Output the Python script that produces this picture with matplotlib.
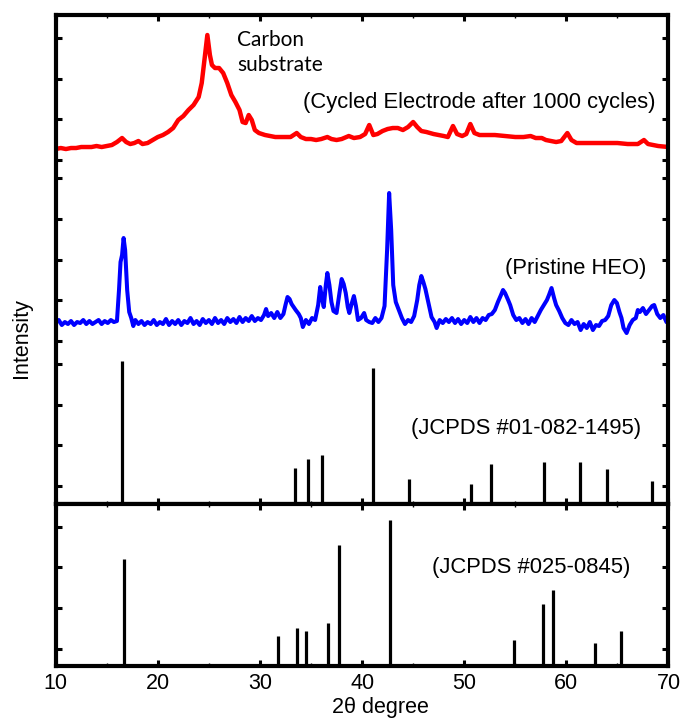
import numpy as np
import matplotlib
matplotlib.use("Agg")
import matplotlib.pyplot as plt
from matplotlib.ticker import MultipleLocator

# ---------------- data ----------------
# Cycled electrode (red): 2theta, intensity (a.u., relative to its own baseline)
red_x = [10.0, 10.5, 11, 11.5, 12, 12.5, 13, 13.5, 14, 14.5, 15, 15.5, 16.0, 16.5, 16.9, 17.3,
         17.7, 18.1, 18.5, 19.0, 19.5, 20, 20.5, 21, 21.5, 22, 22.5, 23, 23.5, 24, 24.3, 24.6,
         24.85, 25.1, 25.3, 25.6, 26.0, 26.4, 26.8, 27.2, 27.6, 28.0, 28.3, 28.6, 28.9, 29.2,
         29.5, 29.9, 30.5, 31, 31.5, 32, 32.5, 33.0, 33.6, 34, 34.5, 35, 35.5, 36, 36.6, 37,
         37.5, 38, 38.7, 39.2, 39.8, 40.3, 40.7, 41.1, 41.5, 42, 42.5, 43, 43.5, 44, 44.5, 45,
         45.4, 45.8, 46.3, 47, 47.5, 48, 48.4, 48.9, 49.3, 49.8, 50.2, 50.6, 51, 51.5, 52, 53,
         54, 55, 55.8, 56.5, 57, 57.6, 58, 58.5, 59, 59.5, 60.1, 60.5, 61, 62, 63, 64, 65, 66,
         67, 67.6, 68, 68.5, 69, 70]
red_y = [26, 27, 26, 27, 27, 28, 28, 28, 29, 28, 29, 30, 33, 37, 33, 31,
         32, 34, 31, 32, 35, 38, 40, 43, 47, 55, 59, 65, 70, 78, 92, 118,
         140, 120, 110, 107, 107, 102, 92, 80, 73, 65, 53, 52, 60, 55,
         45, 42, 40, 39, 38, 38, 38, 38, 42, 38, 36, 36, 35, 36, 38, 36,
         35, 36, 39, 37, 38, 41, 50, 40, 41, 44, 46, 47, 47, 45, 48, 53,
         48, 44, 43, 41, 40, 39, 38, 49, 41, 39, 41, 51, 42, 40, 40, 40,
         39, 38, 38, 39, 37, 37, 35, 34, 33, 34, 42, 35, 32, 32, 32, 32, 32, 31,
         31, 35, 31, 30, 29, 28]

# Pristine HEO (blue)
blue_x = [10.0, 10.3, 10.6, 10.9, 11.2, 11.5, 11.8, 12.1, 12.4, 12.7, 13.0, 13.3, 13.6, 13.9,
          14.2, 14.5, 14.8, 15.1, 15.4, 15.7, 16.0, 16.2, 16.35, 16.5, 16.65, 16.8, 17.0, 17.2,
          17.4, 17.6, 17.8, 18.1, 18.4, 18.7, 19.0, 19.3, 19.6, 19.9, 20.2, 20.5, 20.8, 21.1,
          21.4, 21.7, 22.0, 22.3, 22.6, 22.9, 23.2, 23.5, 23.8, 24.1, 24.4, 24.7, 25.0, 25.3,
          25.6, 25.9, 26.2, 26.5, 26.8, 27.1, 27.4, 27.7, 28.0, 28.3, 28.6, 28.9, 29.2, 29.5,
          29.8, 30.1, 30.4, 30.6, 30.8, 31.1, 31.4, 31.7, 32.0, 32.3, 32.5, 32.7, 32.9, 33.1,
          33.3, 33.5, 33.8, 34.0, 34.2, 34.5, 34.8, 35.1, 35.4, 35.7, 35.9, 36.1, 36.25, 36.45,
          36.6, 36.8, 37.0, 37.2, 37.5, 37.8, 38.0, 38.2, 38.4, 38.6, 38.75, 39.0, 39.2, 39.4,
          39.6, 39.9, 40.2, 40.4, 40.7, 41.0, 41.3, 41.6, 41.9, 42.2, 42.45, 42.65, 42.85, 43.05,
          43.3, 43.6, 43.9, 44.2, 44.5, 44.8, 45.1, 45.4, 45.6, 45.8, 46.0, 46.2, 46.5, 46.8,
          47.1, 47.3, 47.6, 47.9, 48.2, 48.5, 48.8, 49.1, 49.4, 49.7, 50.0, 50.3, 50.6, 50.9,
          51.2, 51.5, 51.8, 52.1, 52.4, 52.7, 53.0, 53.3, 53.6, 53.8, 54.0, 54.3, 54.5, 54.8,
          55.1, 55.4, 55.7, 56.0, 56.3, 56.6, 56.9, 57.2, 57.5, 57.8, 58.1, 58.3, 58.55, 58.8,
          59.0, 59.3, 59.6, 59.9, 60.2, 60.5, 60.8, 61.1, 61.4, 61.7, 62.0, 62.3, 62.6, 62.9,
          63.2, 63.5, 63.8, 64.1, 64.4, 64.7, 64.95, 65.2, 65.4, 65.6, 65.9, 66.2, 66.5, 66.8,
          67.0, 67.2, 67.5, 67.8, 68.1, 68.4, 68.6, 68.9, 69.2, 69.5, 69.8, 70.0]
blue_y = [22, 25, 20, 23, 21, 24, 20, 23, 22, 25, 21, 24, 21, 23,
          25, 21, 24, 22, 25, 23, 24, 55, 83, 90, 107, 95, 55, 33,
          27, 19, 25, 21, 24, 20, 23, 21, 25, 20, 23, 21, 26, 20,
          24, 21, 25, 20, 24, 22, 27, 21, 24, 20, 26, 22, 25, 21,
          27, 22, 25, 21, 27, 23, 26, 22, 28, 23, 27, 24, 29, 24,
          27, 25, 30, 36, 29, 32, 27, 33, 27, 31, 40, 48, 46, 41,
          38, 35, 31, 27, 18, 25, 21, 27, 25, 40, 58, 45, 38, 60,
          72, 60, 43, 34, 32, 53, 66, 61, 52, 38, 32, 42, 49, 39,
          25, 27, 32, 25, 23, 22, 27, 23, 27, 39, 95, 152, 115, 60,
          43, 35, 27, 21, 25, 23, 29, 45, 60, 69, 63, 56, 42, 28,
          23, 17, 25, 22, 26, 23, 27, 22, 26, 21, 25, 22, 28, 23,
          27, 22, 27, 25, 30, 31, 35, 43, 50, 55, 52, 45, 40, 30,
          25, 27, 22, 26, 21, 27, 23, 29, 35, 40, 45, 50, 57, 47,
          40, 34, 27, 22, 20, 25, 21, 23, 15, 21, 17, 23, 15, 20,
          19, 24, 25, 29, 40, 45, 42, 33, 27, 17, 12, 20, 25, 27,
          35, 33, 37, 31, 35, 39, 40, 31, 27, 30, 23, 22]

# JCPDS #01-082-1495 sticks
ref1_pos = [16.53, 33.43, 34.7, 36.04, 41.1, 44.6, 50.63, 52.6, 57.8, 61.3, 64.0, 68.43]
ref1_int = [143, 36, 45, 49, 136, 25, 20, 40, 42, 42, 35, 23]

# JCPDS #025-0845 sticks
ref2_pos = [16.7, 31.77, 33.65, 34.5, 36.63, 37.74, 42.74, 54.9, 57.72, 58.7, 62.76, 65.36]
ref2_int = [107, 30, 38, 35, 43, 121, 146, 26, 62, 76, 23, 35]

x_ticks = [10, 20, 30, 40, 50, 60, 70]

# ---------------- figure ----------------
plt.rcParams['font.family'] = ['Liberation Sans', 'DejaVu Sans']

fig = plt.figure(figsize=(6.84, 7.22), dpi=100)
ax1 = fig.add_axes([0.0814, 0.3019, 0.8959, 0.6773])
ax2 = fig.add_axes([0.0814, 0.0776, 0.8959, 0.2244])

red_off = 329
blue_off = 159
step = 40.75

ax1.plot(red_x, np.array(red_y) + red_off, color='#ff0000', lw=3.2, solid_joinstyle='round')
ax1.plot(blue_x, np.array(blue_y) + blue_off, color='#0000ff', lw=2.9, solid_joinstyle='round')
ax1.vlines(ref1_pos, 0, ref1_int, color='black', lw=2.3)
ax2.vlines(ref2_pos, 0, ref2_int, color='black', lw=2.3)

ax1.set_ylim(0, 489)
ax2.set_ylim(0, 162)

ax1_ticks = list(18 + step * np.arange(4)) + list(163 + step * np.arange(5)) + list(344 + step * np.arange(4))
ax2_ticks = list(17 + step * np.arange(4))
ax1.set_yticks(ax1_ticks)
ax2.set_yticks(ax2_ticks)

for ax in (ax1, ax2):
    ax.set_xlim(10, 70)
    ax.set_xticks(x_ticks)
    ax.xaxis.set_minor_locator(MultipleLocator(5))
    ax.tick_params(axis='both', which='major', direction='in', top=True, right=True,
                   length=4.5, width=2.2, labelsize=15.5, pad=5)
    ax.tick_params(axis='x', which='minor', direction='in', top=True, bottom=True,
                   length=2.5, width=1.0)
    ax.tick_params(axis='y', labelleft=False)
    for s in ax.spines.values():
        s.set_linewidth(3)

ax1.tick_params(axis='x', labelbottom=False)

ax1.text(68.7, 402, '(Cycled Electrode after 1000 cycles)', ha='right', va='center', fontsize=15.8)
ax1.text(27.8, 474, 'Carbon\nsubstrate', ha='left', va='top', fontsize=15,
         family=['Lato', 'DejaVu Sans'], linespacing=1.3)
ax1.text(67.8, 236, '(Pristine HEO)', ha='right', va='center', fontsize=15.8)
ax1.text(67.35, 76, '(JCPDS #01-082-1495)', ha='right', va='center', fontsize=15.8)
ax2.text(66.25, 98, '(JCPDS #025-0845)', ha='right', va='center', fontsize=15.8)

fig.text(380 / 684, 1 - 707 / 722, '2θ degree', ha='center', va='center', fontsize=15.5)
fig.text(21 / 684, 1 - 338 / 722, 'Intensity', ha='center', va='center', rotation=90, fontsize=15.5)

fig.savefig('out.png', dpi=100)
